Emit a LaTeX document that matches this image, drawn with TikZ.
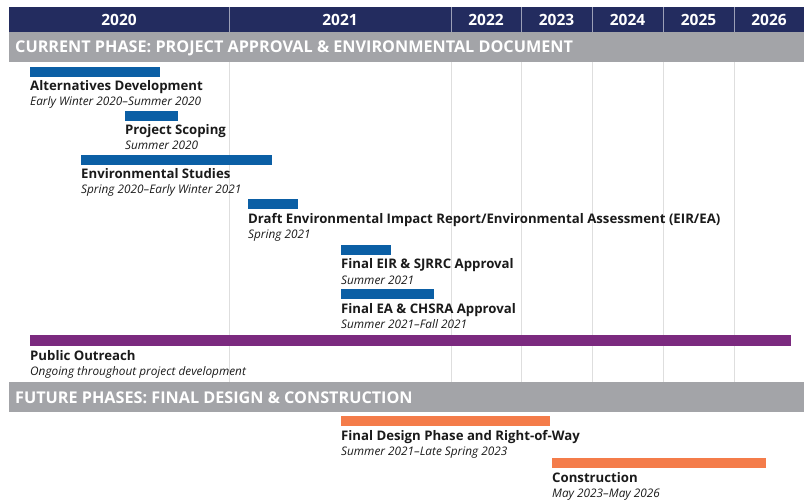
\documentclass[tikz,border=0pt]{standalone}
\usepackage{fontspec}
\setmainfont{Open Sans}
\definecolor{navy}{HTML}{232C5F}
\definecolor{bandgrey}{HTML}{A3A4A8}
\definecolor{barblue}{HTML}{0B5FA5}
\definecolor{barpurple}{HTML}{7B2A7F}
\definecolor{barorange}{HTML}{F47C4A}
\definecolor{gridgrey}{HTML}{DEDEDE}
\definecolor{txt}{HTML}{1A1A1A}
\begin{document}
\begin{tikzpicture}[x=1pt,y=-1pt,
  yearlbl/.style={text=white,font=\bfseries\fontsize{15.5}{15.5}\selectfont,anchor=base,inner sep=0pt},
  bandlbl/.style={text=white,font=\bfseries\fontsize{16.2}{16.2}\selectfont,anchor=base west,inner sep=0pt},
  titlelbl/.style={text=txt,font=\bfseries\fontsize{13.2}{13.2}\selectfont,anchor=base west,inner sep=0pt},
  datelbl/.style={text=txt,font=\itshape\fontsize{11.8}{11.8}\selectfont,anchor=base west,inner sep=0pt},
  gridline/.style={draw=gridgrey,line width=0.8pt},
  hdrline/.style={draw=white!55!navy,line width=0.7pt}]
\useasboundingbox (0,0) rectangle (804,500);
% header
\fill[navy] (9,7) rectangle (804,32);
\foreach \x in {229,451,521,592,663,734} \draw[hdrline] (\x,7) -- (\x,32);
\node[yearlbl] (y2020) at (119,26) {2020};
\node[yearlbl] (y2021) at (340,26) {2021};
\node[yearlbl] (y2022) at (486,26) {2022};
\node[yearlbl] (y2023) at (556.5,26) {2023};
\node[yearlbl] (y2024) at (627.5,26) {2024};
\node[yearlbl] (y2025) at (698.5,26) {2025};
\node[yearlbl] (y2026) at (769,26) {2026};
% current phase band
\fill[bandgrey] (9,32) rectangle (804,62);
\node[bandlbl] (band1) at (15,53) {CURRENT PHASE: PROJECT APPROVAL \& ENVIRONMENTAL DOCUMENT};
% grid
\foreach \x in {229,451,521,592,663,734} \draw[gridline] (\x,62) -- (\x,382);
% bars
\fill[barblue] (30,67) rectangle (160,77);
\node[titlelbl] (t1) at (30,91) {Alternatives Development};
\node[datelbl] (d1) at (30,106) {Early Winter 2020–Summer 2020};
\fill[barblue] (125,111) rectangle (178,121);
\node[titlelbl] (t2) at (125,135) {Project Scoping};
\node[datelbl] (d2) at (125,150) {Summer 2020};
\fill[barblue] (81,155) rectangle (272,165);
\node[titlelbl] (t3) at (81,179) {Environmental Studies};
\node[datelbl] (d3) at (81,194) {Spring 2020–Early Winter 2021};
\fill[barblue] (248,199) rectangle (298,209);
\node[titlelbl] (t4) at (248,223) {Draft Environmental Impact Report/Environmental Assessment (EIR/EA)};
\node[datelbl] (d4) at (248,238) {Spring 2021};
\fill[barblue] (341,245) rectangle (391,255);
\node[titlelbl] (t5) at (341,269) {Final EIR \& SJRRC Approval};
\node[datelbl] (d5) at (341,284) {Summer 2021};
\fill[barblue] (341,289) rectangle (434,299);
\node[titlelbl] (t6) at (341,313) {Final EA \& CHSRA Approval};
\node[datelbl] (d6) at (341,328) {Summer 2021–Fall 2021};
\fill[barpurple] (30,335) rectangle (791,346);
\node[titlelbl] (t7) at (30,360) {Public Outreach};
\node[datelbl] (d7) at (30,375) {Ongoing throughout project development};
% future band
\fill[bandgrey] (9,382) rectangle (804,412);
\node[bandlbl] (band2) at (15,403) {FUTURE PHASES: FINAL DESIGN \& CONSTRUCTION};
\fill[barorange] (341,416) rectangle (550,426);
\node[titlelbl] (t8) at (341,440) {Final Design Phase and Right-of-Way};
\node[datelbl] (d8) at (341,455) {Summer 2021–Late Spring 2023};
\fill[barorange] (552,458) rectangle (766,468);
\node[titlelbl] (t9) at (552,482) {Construction};
\node[datelbl] (d9) at (552,497) {May 2023–May 2026};
\end{tikzpicture}
\end{document}
